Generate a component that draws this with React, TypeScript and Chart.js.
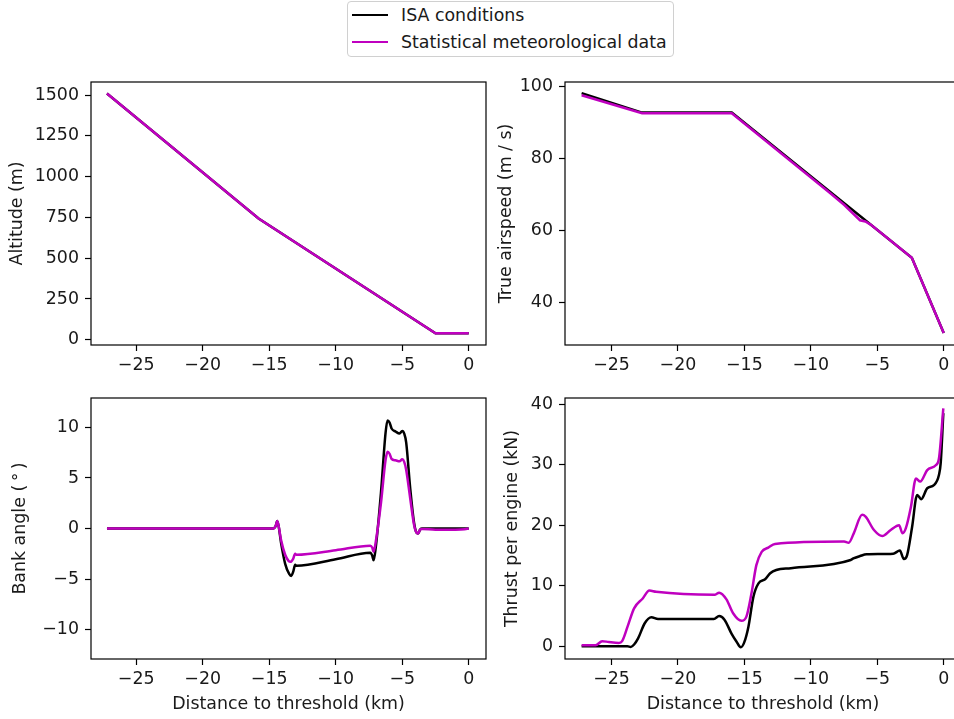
import React, { useEffect, useRef } from "react";
import { Chart, registerables } from "chart.js";

Chart.register(...registerables);

// ---------- tick labels ----------
const xTicks = [-25, -20, -15, -10, -5, 0];
const altTicks = [0, 250, 500, 750, 1000, 1250, 1500];
const tasTicks = [40, 60, 80, 100];
const bankTicks = [-10, -5, 0, 5, 10];
const thrustTicks = [0, 10, 20, 30, 40];

// ---------- series ----------
const seriesNames = ["ISA conditions", "Statistical meteorological data"];

// Altitude (m)
const altIsaX = [-27.2, -15.8, -2.5, 0];
const altIsaY = [1510, 743, 40, 40];
const altStatX = [-27.2, -15.8, -2.5, 0];
const altStatY = [1510, 743, 40, 40];

// True airspeed (m/s)
const tasIsaX = [-27.25, -22.7, -15.95, -2.4, 0];
const tasIsaY = [98.2, 92.8, 92.8, 52.5, 31.6];
const tasStatX = [-27.25, -22.7, -15.95, -8.6, -7.5, -6.3, -5.9, -5.5, -2.4, 0];
const tasStatY = [97.6, 92.6, 92.6, 70.6, 67.2, 62.9, 62.55, 61.7, 52.5, 31.6];

// Bank angle (deg)
const bankIsaX = [-27.2, -14.7, -14.5, -14.4, -14.3, -14.1, -13.8, -13.5, -13.35, -13.2, -13.05, -12.95, -10, -7.4, -7.25, -7.15, -7.0, -6.6, -6.25, -6.1, -5.95, -5.8, -5.5, -5.2, -5.0, -4.85, -4.7, -4.4, -4.1, -3.9, -3.8, -3.65, -3.5, 0];
const bankIsaY = [0, 0, 0.3, 0.75, 0.3, -1.5, -3.5, -4.5, -4.7, -4.3, -3.6, -3.7, -3.05, -2.4, -2.7, -3.15, -2.0, 3.5, 9.5, 10.7, 10.5, 9.9, 9.6, 9.4, 9.65, 9.4, 8.5, 4.0, 0.5, -0.45, -0.5, -0.1, 0, 0];
const bankStatX = [-27.2, -14.7, -14.5, -14.4, -14.3, -14.1, -13.8, -13.55, -13.4, -13.2, -13.05, -12.95, -10, -7.4, -7.25, -7.15, -7.0, -6.6, -6.25, -6.1, -5.95, -5.8, -5.5, -5.2, -5.0, -4.85, -4.7, -4.4, -4.1, -3.9, -3.8, -3.65, -3.5, -2.5, -1.0, -0.3, 0];
const bankStatY = [0, 0, 0.3, 0.75, 0.3, -1.2, -2.6, -3.2, -3.3, -3.0, -2.5, -2.6, -2.15, -1.7, -1.9, -2.3, -1.4, 2.5, 6.8, 7.6, 7.4, 6.9, 6.75, 6.65, 6.85, 6.6, 5.8, 3.0, 0.3, -0.45, -0.5, -0.1, -0.05, -0.12, -0.12, -0.08, 0];

// Thrust per engine (kN)
const thrIsaX = [-27.25, -26.0, -24.5, -23.8, -23.55, -23.3, -23.0, -22.5, -22.0, -21.5, -17.3, -16.9, -16.5, -15.97, -15.6, -15.27, -15.02, -14.7, -14.32, -13.94, -13.44, -13.06, -12.6, -11.5, -7.0, -6.8, -6.3, -5.8, -3.8, -3.3, -3.0, -2.76, -2.38, -2.0, -1.69, -1.24, -0.74, -0.36, -0.23, -0.03];
const thrIsaY = [0, 0, 0, 0, -0.1, 0.3, 1.3, 3.8, 4.8, 4.5, 4.5, 5.0, 4.4, 2.1, 0.8, -0.17, 0.6, 3.2, 8.2, 10.4, 11.06, 12.05, 12.6, 12.9, 14.25, 14.5, 14.9, 15.2, 15.3, 15.8, 14.4, 15.0, 19.7, 25.0, 24.3, 26.1, 26.6, 28.3, 30.2, 38.5];
const thrStatX = [-27.25, -26.2, -25.7, -25.2, -24.45, -24.2, -23.8, -23.3, -22.65, -22.15, -21.65, -17.25, -16.9, -16.35, -15.85, -15.22, -14.85, -14.47, -14.1, -13.7, -13.2, -12.7, -7.5, -7.15, -6.77, -6.14, -5.88, -5.25, -4.62, -3.99, -3.36, -3.1, -2.85, -2.47, -2.09, -1.77, -1.24, -0.6, -0.36, -0.03];
const thrStatY = [0.15, 0.15, 0.85, 0.7, 0.55, 0.85, 3.2, 6.27, 7.9, 9.2, 9.0, 8.5, 8.85, 7.75, 5.45, 4.2, 4.9, 8.7, 13.4, 15.6, 16.3, 16.9, 17.3, 17.1, 18.65, 21.7, 21.4, 19.2, 18.2, 19.2, 20.0, 18.65, 19.5, 23.0, 27.7, 27.2, 29.1, 29.9, 31.0, 39.3];

// ---------- styling ----------
const FONT = "DejaVu Sans";
const FS = 17.4;
const LH = 1.2;
const TEXT = "#1a1a1a";
const BLACK = "#000000";
const MAGENTA = "#bf00bf";

const fmt = (v: number) => (v < 0 ? "\u2212" + Math.abs(v) : String(v));
const zip = (xs: number[], ys: number[]) => xs.map((x, i) => ({ x, y: ys[i] }));

const framePlugin = {
  id: "frame",
  afterDraw(chart: any) {
    const { ctx, chartArea } = chart;
    const { left, top, right, bottom } = chartArea;
    ctx.save();
    ctx.strokeStyle = "#000";
    ctx.lineWidth = 1.2;
    ctx.strokeRect(left, top, right - left, bottom - top);
    ctx.restore();
  },
};

type PanelCfg = {
  plot: { l: number; t: number; r: number; b: number };
  titleCenterX: number;
  xh: number;
  xRange: [number, number];
  yRange: [number, number];
  yTicks: number[];
  yTitle: string;
  xTitle?: string;
  isa: { x: number[]; y: number[] };
  stat: { x: number[]; y: number[] };
  smooth: boolean;
};

const panels: PanelCfg[] = [
  {
    plot: { l: 91, t: 82, r: 486, b: 344.5 },
    titleCenterX: 17.5,
    xh: 30,
    xRange: [-28.4, 1.3],
    yRange: [-32, 1580],
    yTicks: altTicks,
    yTitle: "Altitude (m)",
    isa: { x: altIsaX, y: altIsaY },
    stat: { x: altStatX, y: altStatY },
    smooth: false,
  },
  {
    plot: { l: 565, t: 82, r: 960.5, b: 344.5 },
    titleCenterX: 506.7,
    xh: 30,
    xRange: [-28.5, 1.3],
    yRange: [28.25, 101.3],
    yTicks: tasTicks,
    yTitle: "True airspeed (m / s)",
    isa: { x: tasIsaX, y: tasIsaY },
    stat: { x: tasStatX, y: tasStatY },
    smooth: false,
  },
  {
    plot: { l: 91, t: 398, r: 486, b: 659 },
    titleCenterX: 20.8,
    xh: 56,
    xRange: [-28.4, 1.3],
    yRange: [-12.92, 12.92],
    yTicks: bankTicks,
    yTitle: "Bank angle (\u2009\u00b0\u2009)",
    xTitle: "Distance to threshold (km)",
    isa: { x: bankIsaX, y: bankIsaY },
    stat: { x: bankStatX, y: bankStatY },
    smooth: true,
  },
  {
    plot: { l: 565, t: 398, r: 960.5, b: 659 },
    titleCenterX: 512.5,
    xh: 56,
    xRange: [-28.5, 1.3],
    yRange: [-2.1, 41.0],
    yTicks: thrustTicks,
    yTitle: "Thrust per engine (kN)",
    xTitle: "Distance to threshold (km)",
    isa: { x: thrIsaX, y: thrIsaY },
    stat: { x: thrStatX, y: thrStatY },
    smooth: true,
  },
];

const PAD_TOP = 18;
const PAD_RIGHT = 10;

function Panel({ cfg }: { cfg: PanelCfg }) {
  const ref = useRef<HTMLCanvasElement | null>(null);
  const left = Math.round(cfg.titleCenterX - (FS * LH) / 2);
  const top = cfg.plot.t - PAD_TOP;
  const width = Math.ceil(cfg.plot.r + PAD_RIGHT - left);
  const height = Math.round(cfg.plot.b + cfg.xh - top);
  const yw = cfg.plot.l - left;

  useEffect(() => {
    if (!ref.current) return;
    const font = { family: FONT, size: FS, lineHeight: LH };
    const grid = {
      display: true,
      drawOnChartArea: false,
      drawTicks: true,
      tickLength: 6,
      tickColor: "#000",
      tickWidth: 1.2,
    };
    const chart = new Chart(ref.current, {
      type: "line",
      data: {
        datasets: [
          {
            label: seriesNames[0],
            data: zip(cfg.isa.x, cfg.isa.y),
            borderColor: BLACK,
            backgroundColor: BLACK,
            borderWidth: 2.5,
            pointRadius: 0,
            fill: false,
            tension: 0,
            cubicInterpolationMode: cfg.smooth ? "monotone" : "default",
            order: 1,
          },
          {
            label: seriesNames[1],
            data: zip(cfg.stat.x, cfg.stat.y),
            borderColor: MAGENTA,
            backgroundColor: MAGENTA,
            borderWidth: 2.5,
            pointRadius: 0,
            fill: false,
            tension: 0,
            cubicInterpolationMode: cfg.smooth ? "monotone" : "default",
            order: 0,
          },
        ],
      } as any,
      options: {
        responsive: false,
        animation: false,
        devicePixelRatio: 1,
        layout: { padding: { top: PAD_TOP, right: PAD_RIGHT, left: 0, bottom: 0 } },
        plugins: { legend: { display: false }, tooltip: { enabled: false } },
        events: [],
        scales: {
          x: {
            type: "linear",
            position: "bottom",
            min: cfg.xRange[0],
            max: cfg.xRange[1],
            afterBuildTicks: (s: any) => {
              s.ticks = xTicks.map((v) => ({ value: v }));
            },
            afterFit: (s: any) => {
              s.height = cfg.xh;
            },
            grid,
            border: { display: false },
            ticks: {
              color: TEXT,
              font,
              padding: 4,
              autoSkip: false,
              maxRotation: 0,
              callback: (v: any) => fmt(Number(v)),
            },
            title: {
              display: !!cfg.xTitle,
              text: cfg.xTitle || "",
              color: TEXT,
              font,
              padding: 0,
            },
          },
          y: {
            type: "linear",
            position: "left",
            min: cfg.yRange[0],
            max: cfg.yRange[1],
            afterBuildTicks: (s: any) => {
              s.ticks = cfg.yTicks.map((v) => ({ value: v }));
            },
            afterFit: (s: any) => {
              s.width = yw;
            },
            grid,
            border: { display: false },
            ticks: {
              color: TEXT,
              font,
              padding: 6,
              autoSkip: false,
              callback: (v: any) => fmt(Number(v)),
            },
            title: {
              display: true,
              text: cfg.yTitle,
              color: TEXT,
              font,
              padding: 0,
            },
          },
        },
      } as any,
      plugins: [framePlugin],
    });
    return () => chart.destroy();
  }, []);

  return (
    <canvas
      ref={ref}
      width={width}
      height={height}
      style={{ position: "absolute", left, top, width, height, display: "block" }}
    />
  );
}

function Legend() {
  const rowStyle = (cy: number): React.CSSProperties => ({
    position: "absolute",
    left: 53,
    top: cy - 11,
    height: 22,
    lineHeight: "22px",
    whiteSpace: "nowrap",
  });
  const handle = (cy: number, color: string): React.CSSProperties => ({
    position: "absolute",
    left: 4,
    top: cy - 1.25,
    width: 36,
    height: 2.5,
    background: color,
  });
  return (
    <div
      style={{
        position: "absolute",
        left: 347,
        top: 1,
        width: 327,
        height: 56,
        boxSizing: "border-box",
        border: "1px solid #d0d0d0",
        borderRadius: 4,
        background: "#fff",
        fontFamily: FONT,
        fontSize: FS,
        color: TEXT,
      }}
    >
      <div style={handle(13, BLACK)} />
      <div style={rowStyle(13)}>{seriesNames[0]}</div>
      <div style={handle(40, MAGENTA)} />
      <div style={rowStyle(40)}>{seriesNames[1]}</div>
    </div>
  );
}

export default function App() {
  return (
    <div
      style={{
        position: "absolute",
        left: 0,
        top: 0,
        width: 954,
        height: 719,
        overflow: "hidden",
        background: "#fff",
      }}
    >
      {panels.map((p, i) => (
        <Panel key={i} cfg={p} />
      ))}
      <Legend />
    </div>
  );
}
